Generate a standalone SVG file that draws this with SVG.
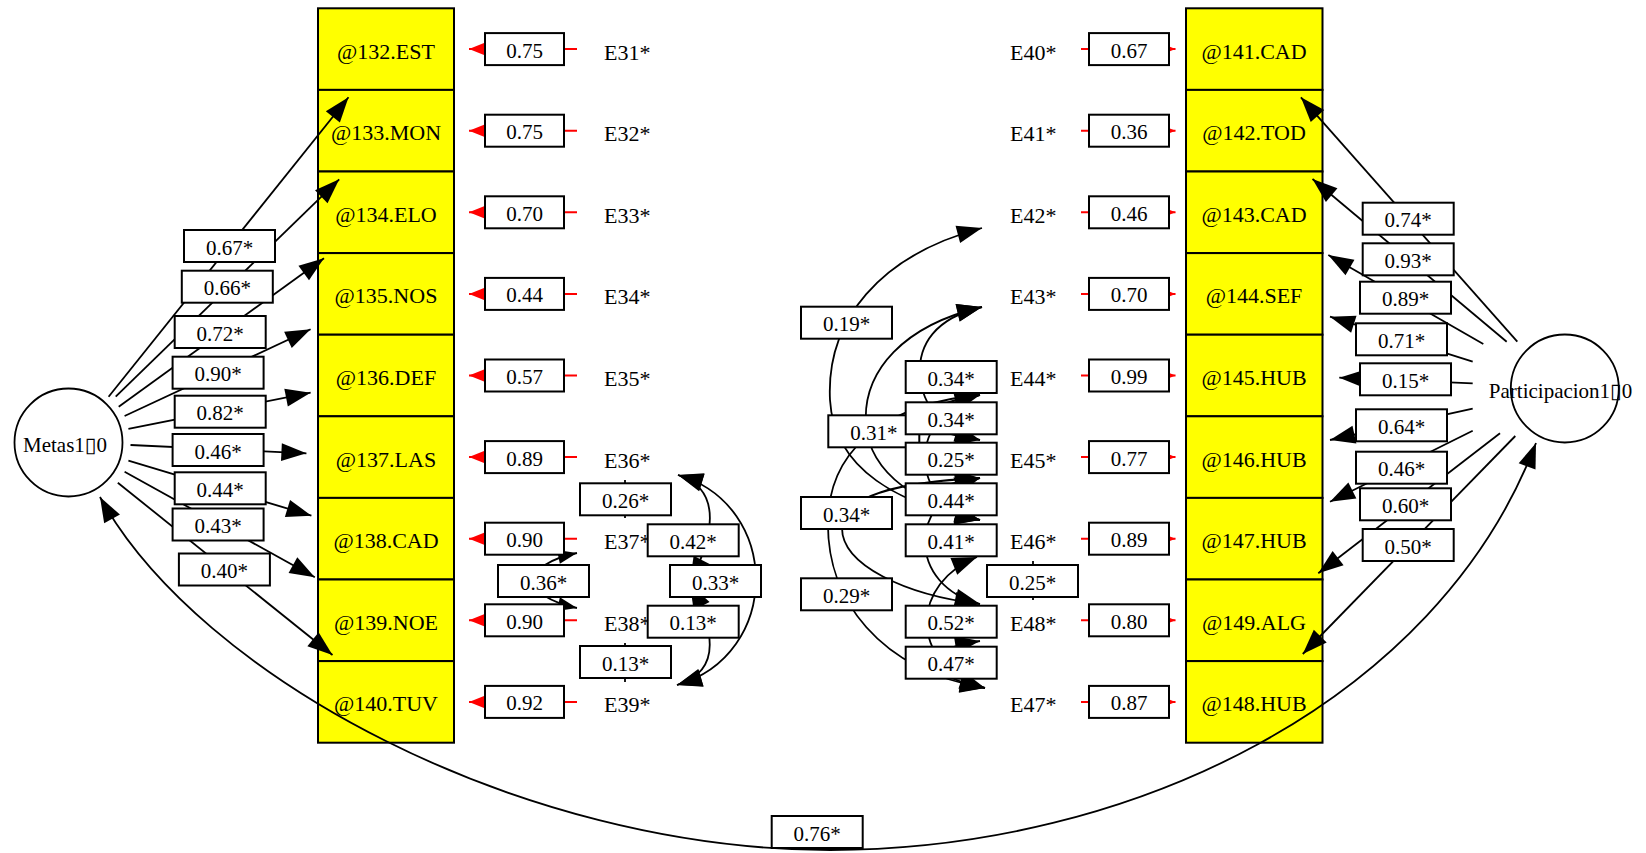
<svg xmlns="http://www.w3.org/2000/svg" width="1646" height="853" viewBox="0 0 1646 853" font-family="Liberation Serif, Times New Roman, serif">
<style>
text{font-family:'Liberation Serif','Times New Roman','DejaVu Serif',serif;fill:#000}
.node rect{fill:#ffff00;stroke:#000;stroke-width:2}
.nt{font-size:22px;text-anchor:middle}
.et{font-size:22px}
.lat{fill:#fff;stroke:#000;stroke-width:1.8}
.lt{font-size:21px;text-anchor:middle}
.lab rect{fill:#fff;stroke:#000;stroke-width:2}
.e{stroke:#000;stroke-width:1.8;fill:none}
.ea{stroke:#000;stroke-width:1.8;fill:none;marker-end:url(#ab)}
.eb{stroke:#000;stroke-width:1.8;fill:none;marker-start:url(#ab);marker-end:url(#ab)}
.r{stroke:#ff0000;stroke-width:2;marker-end:url(#ar)}
</style>
<defs>
<marker id="ab" markerUnits="userSpaceOnUse" markerWidth="26" markerHeight="20" refX="25" refY="10" orient="auto-start-reverse" viewBox="0 0 26 20" overflow="visible"><path d="M0,1 L25,10 L0,19 z" fill="#000"/></marker>
<marker id="as" markerUnits="userSpaceOnUse" markerWidth="20" markerHeight="16" refX="19" refY="8" orient="auto-start-reverse" viewBox="0 0 20 16" overflow="visible"><path d="M0,1 L19,8 L0,15 z" fill="#000"/></marker>
<marker id="ar" markerUnits="userSpaceOnUse" markerWidth="15" markerHeight="12" refX="15" refY="6" orient="auto" viewBox="0 0 15 12" overflow="visible"><path d="M0,0 L15,6 L0,12 z" fill="#ff0000"/></marker>
</defs>
<rect width="1646" height="853" fill="#fff"/>

<!-- latent nodes -->
<g id="Metas"><circle class="lat" cx="68.5" cy="442.5" r="54"/><text class="lt" x="65" y="451.5">Metas1▯0</text></g>
<g id="Participacion"><circle class="lat" cx="1564.8" cy="388.5" r="54"/><text class="lt" x="1560.5" y="398">Participacion1▯0</text></g>

<!-- observed nodes left -->
<g id="n132" class="node"><rect x="318" y="8.3" width="136" height="81.6"/><text class="nt" x="386" y="58.6">@132.EST</text></g>
<g id="n133" class="node"><rect x="318" y="89.9" width="136" height="81.6"/><text class="nt" x="386" y="140.2">@133.MON</text></g>
<g id="n134" class="node"><rect x="318" y="171.5" width="136" height="81.6"/><text class="nt" x="386" y="221.8">@134.ELO</text></g>
<g id="n135" class="node"><rect x="318" y="253.1" width="136" height="81.6"/><text class="nt" x="386" y="303.4">@135.NOS</text></g>
<g id="n136" class="node"><rect x="318" y="334.7" width="136" height="81.6"/><text class="nt" x="386" y="385">@136.DEF</text></g>
<g id="n137" class="node"><rect x="318" y="416.3" width="136" height="81.6"/><text class="nt" x="386" y="466.6">@137.LAS</text></g>
<g id="n138" class="node"><rect x="318" y="497.9" width="136" height="81.6"/><text class="nt" x="386" y="548.2">@138.CAD</text></g>
<g id="n139" class="node"><rect x="318" y="579.5" width="136" height="81.6"/><text class="nt" x="386" y="629.8">@139.NOE</text></g>
<g id="n140" class="node"><rect x="318" y="661.1" width="136" height="81.6"/><text class="nt" x="386" y="711.4">@140.TUV</text></g>

<!-- observed nodes right -->
<g id="n141" class="node"><rect x="1186" y="8.3" width="136.5" height="81.6"/><text class="nt" x="1254" y="58.6">@141.CAD</text></g>
<g id="n142" class="node"><rect x="1186" y="89.9" width="136.5" height="81.6"/><text class="nt" x="1254" y="140.2">@142.TOD</text></g>
<g id="n143" class="node"><rect x="1186" y="171.5" width="136.5" height="81.6"/><text class="nt" x="1254" y="221.8">@143.CAD</text></g>
<g id="n144" class="node"><rect x="1186" y="253.1" width="136.5" height="81.6"/><text class="nt" x="1254" y="303.4">@144.SEF</text></g>
<g id="n145" class="node"><rect x="1186" y="334.7" width="136.5" height="81.6"/><text class="nt" x="1254" y="385">@145.HUB</text></g>
<g id="n146" class="node"><rect x="1186" y="416.3" width="136.5" height="81.6"/><text class="nt" x="1254" y="466.6">@146.HUB</text></g>
<g id="n147" class="node"><rect x="1186" y="497.9" width="136.5" height="81.6"/><text class="nt" x="1254" y="548.2">@147.HUB</text></g>
<g id="n149" class="node"><rect x="1186" y="579.5" width="136.5" height="81.6"/><text class="nt" x="1254" y="629.8">@149.ALG</text></g>
<g id="n148" class="node"><rect x="1186" y="661.1" width="136.5" height="81.6"/><text class="nt" x="1254" y="711.4">@148.HUB</text></g>

<!-- error nodes left -->
<g id="E31"><text class="et" x="604" y="59.6">E31*</text></g>
<g id="E32"><text class="et" x="604" y="141.2">E32*</text></g>
<g id="E33"><text class="et" x="604" y="222.8">E33*</text></g>
<g id="E34"><text class="et" x="604" y="304.4">E34*</text></g>
<g id="E35"><text class="et" x="604" y="386">E35*</text></g>
<g id="E36"><text class="et" x="604" y="467.6">E36*</text></g>
<g id="E37"><text class="et" x="604" y="549.2">E37*</text></g>
<g id="E38"><text class="et" x="604" y="630.8">E38*</text></g>
<g id="E39"><text class="et" x="604" y="712.4">E39*</text></g>
<!-- error nodes right -->
<g id="E40"><text class="et" x="1010" y="59.6">E40*</text></g>
<g id="E41"><text class="et" x="1010" y="141.2">E41*</text></g>
<g id="E42"><text class="et" x="1010" y="222.8">E42*</text></g>
<g id="E43"><text class="et" x="1010" y="304.4">E43*</text></g>
<g id="E44"><text class="et" x="1010" y="386">E44*</text></g>
<g id="E45"><text class="et" x="1010" y="467.6">E45*</text></g>
<g id="E46"><text class="et" x="1010" y="549.2">E46*</text></g>
<g id="E48"><text class="et" x="1010" y="630.8">E48*</text></g>
<g id="E47"><text class="et" x="1010" y="712.4">E47*</text></g>

<g id="connectors">
<!-- error paths -->
<line class="r" x1="577" y1="49.1" x2="469" y2="49.1"/>
<line class="r" x1="577" y1="130.7" x2="469" y2="130.7"/>
<line class="r" x1="577" y1="212.3" x2="469" y2="212.3"/>
<line class="r" x1="577" y1="293.9" x2="469" y2="293.9"/>
<line class="r" x1="577" y1="375.5" x2="469" y2="375.5"/>
<line class="r" x1="577" y1="457.1" x2="469" y2="457.1"/>
<line class="r" x1="577" y1="538.7" x2="469" y2="538.7"/>
<line class="r" x1="577" y1="620.3" x2="469" y2="620.3"/>
<line class="r" x1="577" y1="701.9" x2="469" y2="701.9"/>
<line class="r" x1="1081" y1="49.1" x2="1175.5" y2="49.1"/>
<line class="r" x1="1081" y1="130.7" x2="1175.5" y2="130.7"/>
<line class="r" x1="1081" y1="212.3" x2="1175.5" y2="212.3"/>
<line class="r" x1="1081" y1="293.9" x2="1175.5" y2="293.9"/>
<line class="r" x1="1081" y1="375.5" x2="1175.5" y2="375.5"/>
<line class="r" x1="1081" y1="457.1" x2="1175.5" y2="457.1"/>
<line class="r" x1="1081" y1="538.7" x2="1175.5" y2="538.7"/>
<line class="r" x1="1081" y1="620.3" x2="1175.5" y2="620.3"/>
<line class="r" x1="1081" y1="701.9" x2="1175.5" y2="701.9"/>
<!-- Metas loadings -->
<line class="ea" x1="108.6" y1="396.7" x2="348.5" y2="97.3"/>
<line class="ea" x1="115.7" y1="396.7" x2="339.2" y2="179.3"/>
<line class="ea" x1="118.7" y1="406.7" x2="324" y2="258.3"/>
<line class="ea" x1="124.6" y1="416" x2="310.6" y2="329.3"/>
<line class="ea" x1="128.4" y1="428.8" x2="310.6" y2="392.7"/>
<line class="ea" x1="130.5" y1="445" x2="306.4" y2="453.3"/>
<line class="ea" x1="128.4" y1="460.7" x2="311.4" y2="515.7"/>
<line class="ea" x1="124.6" y1="471.7" x2="314.8" y2="577.3"/>
<line class="ea" x1="117.8" y1="482.7" x2="332.5" y2="655"/>
<!-- Participacion loadings -->
<line class="ea" x1="1517.3" y1="341.7" x2="1300.9" y2="97.3"/>
<line class="ea" x1="1506.7" y1="341.7" x2="1312.5" y2="179"/>
<line class="ea" x1="1483.3" y1="344" x2="1328.3" y2="255"/>
<line class="ea" x1="1472.7" y1="361.7" x2="1330" y2="316.7"/>
<line class="ea" x1="1472.7" y1="383.3" x2="1339.3" y2="377.7"/>
<line class="ea" x1="1472.7" y1="408.7" x2="1330" y2="440"/>
<line class="ea" x1="1472.7" y1="430.7" x2="1330" y2="501.7"/>
<line class="ea" x1="1500" y1="433.3" x2="1318.3" y2="573.3"/>
<line class="ea" x1="1515.3" y1="436" x2="1302.8" y2="654"/>
<!-- factor covariance -->
<path class="eb" d="M100,497 C199,677 520,850 830,850 C1130,850 1437,703 1536,443"/>
<!-- left error covariances -->
<line class="e" x1="625" y1="480" x2="625" y2="518"/>
<line class="e" x1="625" y1="643" x2="625" y2="682"/>
<path class="e" d="M577,553 C520,565 520,596 577,608" marker-start="url(#as)" marker-end="url(#as)"/>
<path class="eb" d="M678,475 C782,505 782,655 677,685"/>
<path class="eb" d="M678,475 C725,490 712,540 690,582"/>
<path class="eb" d="M677,685 C725,670 712,626 690,584"/>
<!-- right error covariances -->
<path class="eb" d="M982,228 C880,255 826,320 830,400 C834,470 900,505 980,520"/>
<path class="eb" d="M982,307 C905,325 862,370 866,425 C870,475 920,505 980,520"/>
<path class="eb" d="M980,395 C900,402 830,440 828,520 C826,600 880,670 985,688"/>
<path class="eb" d="M980,478 C900,482 842,495 842,528 C842,565 905,595 980,604"/>
<path class="eb" d="M982,307 C935,318 918,345 920,375 C922,405 940,428 980,440"/>
<path class="eb" d="M980,395 C950,400 928,408 928,418 C928,428 950,436 980,440"/>
<path class="eb" d="M980,395 C945,405 925,430 925,458 C925,488 945,510 980,520"/>
<path class="eb" d="M980,478 C950,482 930,490 930,499 C930,508 950,515 980,520"/>
<path class="eb" d="M980,478 C945,490 925,515 925,541 C925,570 945,595 980,604"/>
<path class="eb" d="M977,557 C945,570 927,595 927,622 C927,650 945,675 985,688"/>
<path class="eb" d="M980,641 C955,645 935,652 935,662 C935,672 955,682 985,688"/>
<line class="e" x1="1033" y1="561" x2="1033" y2="600"/>
</g>

<g id="labels" class="lab">
<!-- error variances -->
<rect x="485" y="33.1" width="79" height="32"/><text class="lt" x="524.5" y="57.6">0.75</text>
<rect x="485" y="114.7" width="79" height="32"/><text class="lt" x="524.5" y="139.2">0.75</text>
<rect x="485" y="196.3" width="79" height="32"/><text class="lt" x="524.5" y="220.8">0.70</text>
<rect x="485" y="277.9" width="79" height="32"/><text class="lt" x="524.5" y="302.4">0.44</text>
<rect x="485" y="359.5" width="79" height="32"/><text class="lt" x="524.5" y="384">0.57</text>
<rect x="485" y="441.1" width="79" height="32"/><text class="lt" x="524.5" y="465.6">0.89</text>
<rect x="485" y="522.7" width="79" height="32"/><text class="lt" x="524.5" y="547.2">0.90</text>
<rect x="485" y="604.3" width="79" height="32"/><text class="lt" x="524.5" y="628.8">0.90</text>
<rect x="485" y="685.9" width="79" height="32"/><text class="lt" x="524.5" y="710.4">0.92</text>
<rect x="1089" y="33.1" width="80" height="32"/><text class="lt" x="1129" y="57.6">0.67</text>
<rect x="1089" y="114.7" width="80" height="32"/><text class="lt" x="1129" y="139.2">0.36</text>
<rect x="1089" y="196.3" width="80" height="32"/><text class="lt" x="1129" y="220.8">0.46</text>
<rect x="1089" y="277.9" width="80" height="32"/><text class="lt" x="1129" y="302.4">0.70</text>
<rect x="1089" y="359.5" width="80" height="32"/><text class="lt" x="1129" y="384">0.99</text>
<rect x="1089" y="441.1" width="80" height="32"/><text class="lt" x="1129" y="465.6">0.77</text>
<rect x="1089" y="522.7" width="80" height="32"/><text class="lt" x="1129" y="547.2">0.89</text>
<rect x="1089" y="604.3" width="80" height="32"/><text class="lt" x="1129" y="628.8">0.80</text>
<rect x="1089" y="685.9" width="80" height="32"/><text class="lt" x="1129" y="710.4">0.87</text>
<!-- Metas loadings -->
<rect x="184" y="230" width="91" height="32"/><text class="lt" x="229.5" y="254.5">0.67*</text>
<rect x="181.8" y="270.7" width="91" height="32"/><text class="lt" x="227.3" y="295.2">0.66*</text>
<rect x="174.7" y="316" width="91" height="32"/><text class="lt" x="220.2" y="340.5">0.72*</text>
<rect x="172.6" y="356.7" width="91" height="32"/><text class="lt" x="218.1" y="381.2">0.90*</text>
<rect x="174.7" y="395.7" width="91" height="32"/><text class="lt" x="220.2" y="420.2">0.82*</text>
<rect x="172.6" y="434" width="91" height="32"/><text class="lt" x="218.1" y="458.5">0.46*</text>
<rect x="174.7" y="472.3" width="91" height="32"/><text class="lt" x="220.2" y="496.8">0.44*</text>
<rect x="172.6" y="508.5" width="91" height="32"/><text class="lt" x="218.1" y="533">0.43*</text>
<rect x="178.9" y="553.5" width="91" height="32"/><text class="lt" x="224.4" y="578">0.40*</text>
<!-- Participacion loadings -->
<rect x="1362.7" y="202.7" width="91" height="32"/><text class="lt" x="1408.2" y="227.2">0.74*</text>
<rect x="1362.7" y="243.3" width="91" height="32"/><text class="lt" x="1408.2" y="267.8">0.93*</text>
<rect x="1360" y="281.7" width="91" height="32"/><text class="lt" x="1405.5" y="306.2">0.89*</text>
<rect x="1356" y="323.3" width="91" height="32"/><text class="lt" x="1401.5" y="347.8">0.71*</text>
<rect x="1360" y="363.3" width="91" height="32"/><text class="lt" x="1405.5" y="387.8">0.15*</text>
<rect x="1356" y="409.3" width="91" height="32"/><text class="lt" x="1401.5" y="433.8">0.64*</text>
<rect x="1356" y="451.7" width="91" height="32"/><text class="lt" x="1401.5" y="476.2">0.46*</text>
<rect x="1360" y="488.3" width="91" height="32"/><text class="lt" x="1405.5" y="512.8">0.60*</text>
<rect x="1362.7" y="529" width="91" height="32"/><text class="lt" x="1408.2" y="553.5">0.50*</text>
<!-- covariances -->
<rect x="771.7" y="816" width="91" height="32"/><text class="lt" x="817.2" y="840.5">0.76*</text>
<rect x="580" y="483.3" width="91" height="32"/><text class="lt" x="625.5" y="507.8">0.26*</text>
<rect x="498" y="565" width="91" height="32"/><text class="lt" x="543.5" y="589.5">0.36*</text>
<rect x="647.7" y="524.3" width="91" height="32"/><text class="lt" x="693.2" y="548.8">0.42*</text>
<rect x="670" y="565" width="91" height="32"/><text class="lt" x="715.5" y="589.5">0.33*</text>
<rect x="647.7" y="605.7" width="91" height="32"/><text class="lt" x="693.2" y="630.2">0.13*</text>
<rect x="580" y="646" width="91" height="32"/><text class="lt" x="625.5" y="670.5">0.13*</text>
<rect x="801" y="306.7" width="91" height="32"/><text class="lt" x="846.5" y="331.2">0.19*</text>
<rect x="828.3" y="415.3" width="91" height="32"/><text class="lt" x="873.8" y="439.8">0.31*</text>
<rect x="801" y="497" width="91" height="32"/><text class="lt" x="846.5" y="521.5">0.34*</text>
<rect x="801" y="578.3" width="91" height="32"/><text class="lt" x="846.5" y="602.8">0.29*</text>
<rect x="905.7" y="361" width="91" height="32"/><text class="lt" x="951.2" y="385.5">0.34*</text>
<rect x="905.7" y="402.3" width="91" height="32"/><text class="lt" x="951.2" y="426.8">0.34*</text>
<rect x="905.7" y="442.7" width="91" height="32"/><text class="lt" x="951.2" y="467.2">0.25*</text>
<rect x="905.7" y="483.3" width="91" height="32"/><text class="lt" x="951.2" y="507.8">0.44*</text>
<rect x="905.7" y="524.3" width="91" height="32"/><text class="lt" x="951.2" y="548.8">0.41*</text>
<rect x="905.7" y="605.7" width="91" height="32"/><text class="lt" x="951.2" y="630.2">0.52*</text>
<rect x="905.7" y="646.7" width="91" height="32"/><text class="lt" x="951.2" y="671.2">0.47*</text>
<rect x="987" y="565" width="91" height="32"/><text class="lt" x="1032.5" y="589.5">0.25*</text>
</g>
</svg>
